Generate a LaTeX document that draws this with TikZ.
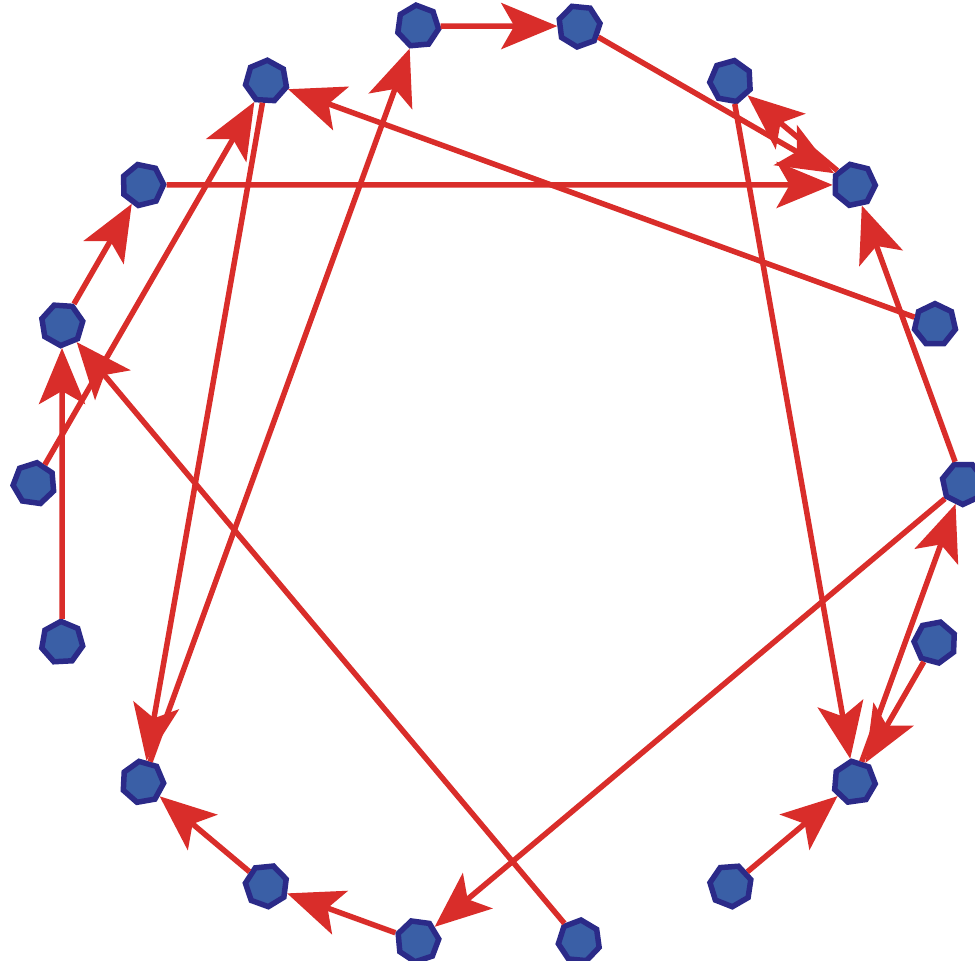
\documentclass[tikz,border=0pt]{standalone}
\usetikzlibrary{arrows.meta,shapes.geometric}
\definecolor{edgered}{HTML}{D92D2A}
\definecolor{nodeblue}{HTML}{3A5FA6}
\definecolor{nodeborder}{HTML}{2B2A88}
\tikzset{
  vtx/.style={regular polygon, regular polygon sides=7, minimum size=42pt,
    inner sep=0pt, fill=nodeblue, draw=nodeborder, line width=5.5pt},
  redarrow/.style={draw=edgered, line width=5.5pt,
    -{Stealth[length=56pt,width=46pt,inset=13pt]}}
}
\begin{document}
\begin{tikzpicture}[x=1pt,y=-1pt]
\useasboundingbox (0,0) rectangle (975,961);
\foreach \k/\r in {1/5,2/20,3/-10,4/12,5/0,6/25,7/-15,8/8,9/30,10/-5,11/18,12/-20,13/10,14/3,15/-8,16/22,17/14,18/-3}{
  \pgfmathsetmacro{\ang}{100-20*(\k-1)}
  \node[vtx, rotate=\r] (n\k) at ({498.5+464.5*cos(\ang)},{483.5-464.5*sin(\ang)}) {};
}
\foreach \a/\b in {1/2,2/4,4/3,3/8,5/18,6/4,6/11,8/6,7/8,9/8,10/16,11/12,12/13,18/13,13/1,17/4,15/18,16/17,14/16}{
  \draw[redarrow] (n\a) -- (n\b);
}
\end{tikzpicture}
\end{document}
